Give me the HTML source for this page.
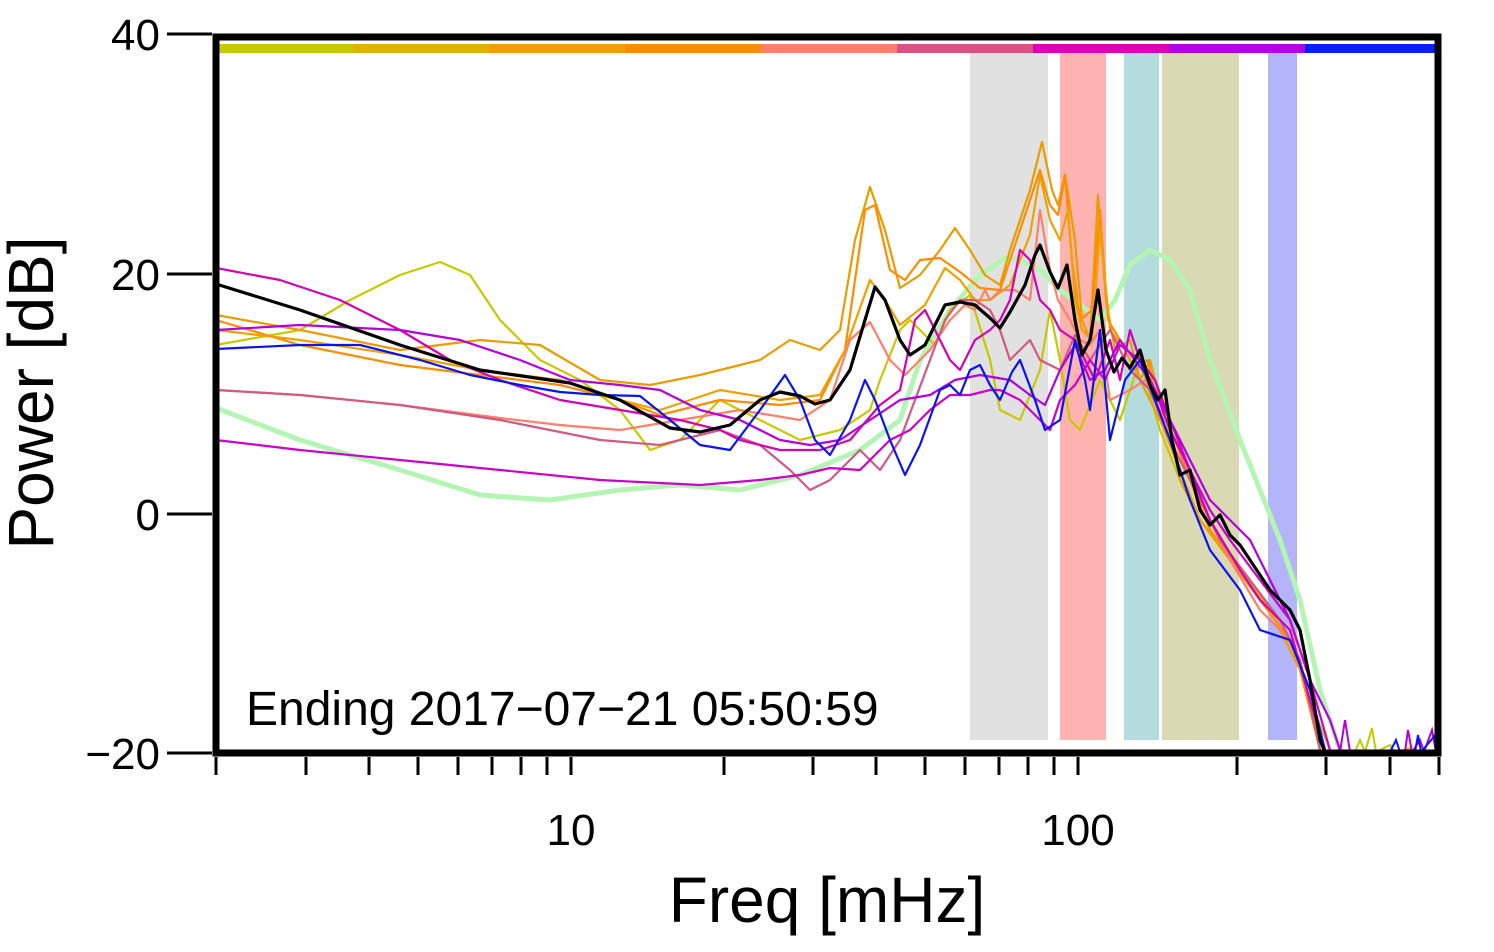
<!DOCTYPE html>
<html><head><meta charset="utf-8"><style>
body{margin:0;background:#fff}
svg{display:block}
text{font-family:"Liberation Sans",sans-serif}
</style></head><body>
<svg width="1494" height="952" viewBox="0 0 1494 952" xmlns="http://www.w3.org/2000/svg">
<g>
<rect x="970" y="53" width="78" height="687" fill="#e1e1e1"/>
<rect x="1060" y="53" width="46" height="687" fill="#ffb3b0"/>
<rect x="1124" y="53" width="35" height="687" fill="#b4dcde"/>
<rect x="1162" y="53" width="77" height="687" fill="#d9d9b4"/>
<rect x="1268" y="53" width="29" height="687" fill="#b4b4fa"/>
</g>
<g>
<rect x="218" y="44" width="135" height="9" fill="#c8c800"/>
<rect x="353" y="44" width="136" height="9" fill="#dcb400"/>
<rect x="489" y="44" width="136" height="9" fill="#f0a000"/>
<rect x="625" y="44" width="136" height="9" fill="#ff8c00"/>
<rect x="761" y="44" width="136" height="9" fill="#ff7f6a"/>
<rect x="897" y="44" width="136" height="9" fill="#dc5082"/>
<rect x="1033" y="44" width="136" height="9" fill="#e000b4"/>
<rect x="1169" y="44" width="136" height="9" fill="#b400e6"/>
<rect x="1305" y="44" width="133" height="9" fill="#0a1eff"/>
</g>
<g fill="none" stroke-linejoin="round" stroke-linecap="round" stroke-width="2.2">
<polyline stroke="#b4f5b4" stroke-width="5" points="216,408 300,440 400,470 480,495 550,500 620,490 680,485 740,490 800,475 860,450 900,420 920,360 950,310 980,275 1005,258 1020,260 1040,270 1060,290 1080,305 1100,320 1115,300 1130,265 1150,250 1170,260 1190,290 1210,360 1240,440 1260,490 1280,540 1300,600 1320,690 1340,750"/>
<polyline stroke="#c8c800" points="216,345 300,330 350,300 400,275 440,262 470,275 500,320 540,360 580,380 620,410 650,450 680,440 720,400 760,420 800,440 840,430 870,410 880,380 900,330 910,320 920,330 935,345 950,310 970,295 990,360 1000,410 1020,420 1040,370 1050,310 1060,360 1070,420 1080,430 1100,380 1120,420 1140,360 1160,430 1180,480 1200,520 1230,560 1260,600 1290,640 1310,700 1330,750"/>
<polyline stroke="#e89c00" points="216,315 300,330 400,350 480,340 540,345 600,380 650,385 700,375 760,360 790,340 820,350 840,330 855,240 870,187 885,230 900,288 920,275 940,250 955,228 970,250 985,275 1000,285 1010,250 1030,190 1042,142 1052,190 1058,205 1065,175 1075,240 1082,320 1090,340 1098,195 1106,300 1115,350 1130,340 1140,380 1150,360 1160,400 1170,430 1180,480 1200,520 1230,560 1260,600 1290,640 1310,700 1320,750"/>
<polyline stroke="#ff8c00" points="216,320 300,345 400,365 480,375 560,385 620,400 660,415 720,400 780,405 820,400 845,350 865,210 875,205 890,270 905,280 920,260 940,258 960,272 980,288 1000,290 1020,230 1040,170 1050,205 1058,215 1065,175 1072,260 1080,320 1092,310 1100,210 1108,320 1120,340 1135,370 1148,360 1160,420 1175,440 1190,480 1210,530 1240,570 1270,610 1300,660 1320,750"/>
<polyline stroke="#f0a000" points="216,330 300,340 400,355 480,370 560,380 620,400 660,410 720,390 780,400 820,395 845,350 870,280 885,300 900,325 925,305 945,268 960,280 975,300 990,300 1010,285 1030,235 1040,175 1050,220 1060,240 1068,210 1075,300 1082,330 1092,340 1100,230 1110,330 1125,350 1140,380 1160,420 1180,470 1200,520 1240,570 1270,610 1300,670 1320,750"/>
<polyline stroke="#ff7f6a" points="216,390 300,395 400,405 500,418 560,425 620,430 680,420 740,410 800,420 830,400 850,340 870,322 890,360 905,375 930,350 950,320 965,305 975,310 985,290 990,300 1000,290 1015,290 1030,300 1040,210 1050,270 1058,300 1070,320 1080,340 1090,345 1100,330 1110,400 1130,390 1145,380 1160,410 1180,450 1200,500 1230,560 1260,610 1290,640 1310,690 1325,750"/>
<polyline stroke="#d05a80" points="216,390 300,395 400,405 500,420 600,440 660,445 720,430 760,445 790,470 810,490 830,480 860,450 880,470 900,440 930,360 945,320 960,300 975,300 990,310 1000,330 1010,360 1030,340 1040,360 1060,370 1075,335 1090,360 1110,330 1130,370 1150,390 1170,440 1190,480 1220,540 1250,580 1280,620 1300,660 1320,750"/>
<polyline stroke="#d400b4" points="216,268 280,280 340,300 400,330 450,360 500,380 560,400 620,410 680,420 720,430 740,440 780,450 820,450 850,440 880,405 900,390 915,320 925,310 935,330 950,360 960,370 975,340 990,330 1000,320 1010,300 1020,250 1030,260 1040,300 1050,310 1060,330 1075,340 1085,360 1095,380 1110,340 1120,380 1130,330 1140,360 1155,380 1170,420 1190,470 1210,520 1240,570 1260,600 1290,630 1310,700 1325,750"/>
<polyline stroke="#b400dc" points="216,330 300,325 400,330 460,340 520,360 570,380 620,385 660,390 700,410 740,420 780,440 810,445 840,440 870,420 900,400 930,395 955,380 980,375 1010,380 1030,395 1045,405 1060,370 1075,345 1090,380 1105,370 1120,340 1135,360 1150,380 1170,420 1190,460 1210,500 1230,520 1250,540 1270,580 1290,620 1310,680 1330,720 1340,750"/>
<polyline stroke="#cc00cc" points="216,440 300,450 400,460 500,470 600,480 700,485 760,480 800,475 830,468 860,470 890,440 910,430 930,410 950,395 970,395 990,390 1000,390 1020,400 1040,420 1050,430 1060,400 1075,385 1090,360 1105,380 1120,345 1140,360 1155,390 1170,430 1190,470 1210,510 1230,540 1260,580 1290,620 1310,680 1330,750"/>
<polyline stroke="#0a14f0" points="216,349 300,345 360,345 420,360 470,375 520,385 560,392 600,395 640,396 670,420 700,445 730,450 760,410 785,375 800,400 815,440 830,455 850,420 865,380 875,400 890,440 905,475 920,445 940,390 950,385 960,395 970,370 980,365 990,385 1000,400 1012,372 1020,360 1035,400 1045,430 1060,420 1075,340 1085,380 1090,410 1100,330 1110,440 1125,380 1140,360 1155,400 1170,440 1190,500 1210,550 1240,590 1260,630 1290,640 1310,690 1325,750"/>
<polyline stroke="#000" stroke-width="3.2" points="216,284 300,310 400,345 480,370 570,383 620,400 670,428 700,432 730,425 760,400 780,392 800,396 815,404 830,400 850,370 865,320 875,287 885,300 900,340 910,355 925,345 945,305 960,302 975,305 990,318 1000,328 1010,312 1025,285 1035,255 1040,245 1050,272 1058,288 1067,265 1075,320 1082,355 1090,340 1098,290 1106,350 1114,372 1122,358 1130,368 1140,350 1150,385 1158,400 1165,390 1172,440 1180,475 1190,470 1200,510 1210,525 1220,515 1230,535 1240,545 1250,560 1260,575 1270,590 1280,600 1290,610 1300,630 1310,680 1320,740 1325,752"/>
</g>
<g fill="none" stroke-width="2">
<polyline stroke="#c8c800" points="1355,752 1360,740 1365,752 1372,728 1376,752 1390,745 1395,752 1410,748 1415,752"/>
<polyline stroke="#b400dc" points="1340,752 1345,720 1350,752 1405,752 1408,730 1412,752 1420,740 1424,752 1432,730 1436,752"/>
<polyline stroke="#0a14f0" points="1390,752 1396,740 1400,752 1415,752 1418,735 1421,752 1438,732"/>
</g>
<rect x="216" y="37" width="1222" height="716" fill="none" stroke="#000" stroke-width="7"/>
<g stroke="#000" stroke-width="3">
<line x1="167" y1="34" x2="212" y2="34"/>
<line x1="167" y1="274" x2="212" y2="274"/>
<line x1="167" y1="514" x2="212" y2="514"/>
<line x1="167" y1="753" x2="212" y2="753"/>
</g>
<g stroke="#000" stroke-width="3" id="yt"></g>
<g stroke="#000" stroke-width="3">
<line x1="216" y1="757" x2="216" y2="775"/><line x1="306" y1="757" x2="306" y2="775"/><line x1="369" y1="757" x2="369" y2="775"/><line x1="418" y1="757" x2="418" y2="775"/><line x1="458" y1="757" x2="458" y2="775"/><line x1="492" y1="757" x2="492" y2="775"/><line x1="521" y1="757" x2="521" y2="775"/><line x1="547" y1="757" x2="547" y2="775"/><line x1="571" y1="757" x2="571" y2="775"/>
<line x1="724" y1="757" x2="724" y2="775"/><line x1="813" y1="757" x2="813" y2="775"/><line x1="876" y1="757" x2="876" y2="775"/><line x1="925" y1="757" x2="925" y2="775"/><line x1="965" y1="757" x2="965" y2="775"/><line x1="999" y1="757" x2="999" y2="775"/><line x1="1028" y1="757" x2="1028" y2="775"/><line x1="1054" y1="757" x2="1054" y2="775"/><line x1="1078" y1="757" x2="1078" y2="775"/>
<line x1="1237" y1="757" x2="1237" y2="775"/><line x1="1326" y1="757" x2="1326" y2="775"/><line x1="1390" y1="757" x2="1390" y2="775"/><line x1="1439" y1="757" x2="1439" y2="775"/>
</g>
<g font-size="44" fill="#000">
<text x="160" y="50" text-anchor="end">40</text>
<text x="160" y="290" text-anchor="end">20</text>
<text x="160" y="530" text-anchor="end">0</text>
<text x="160" y="769" text-anchor="end">−20</text>
<text x="571" y="845" text-anchor="middle">10</text>
<text x="1078" y="845" text-anchor="middle">100</text>
</g>
<text x="827" y="922" font-size="64" text-anchor="middle">Freq [mHz]</text>
<text transform="translate(53,393) rotate(-90)" font-size="64" text-anchor="middle">Power [dB]</text>
<text x="246" y="725" font-size="48">Ending 2017−07−21 05:50:59</text>
<script>
var g=document.getElementById('yt'),s='';
for(var i=0;i<=60;i++){if(i%20==0)continue;var y=34+i*719/60;s+='<line x1="197" y1="'+y+'" x2="212" y2="'+y+'"/>';}
g.innerHTML=s;
</script>
</svg>
</body></html>
